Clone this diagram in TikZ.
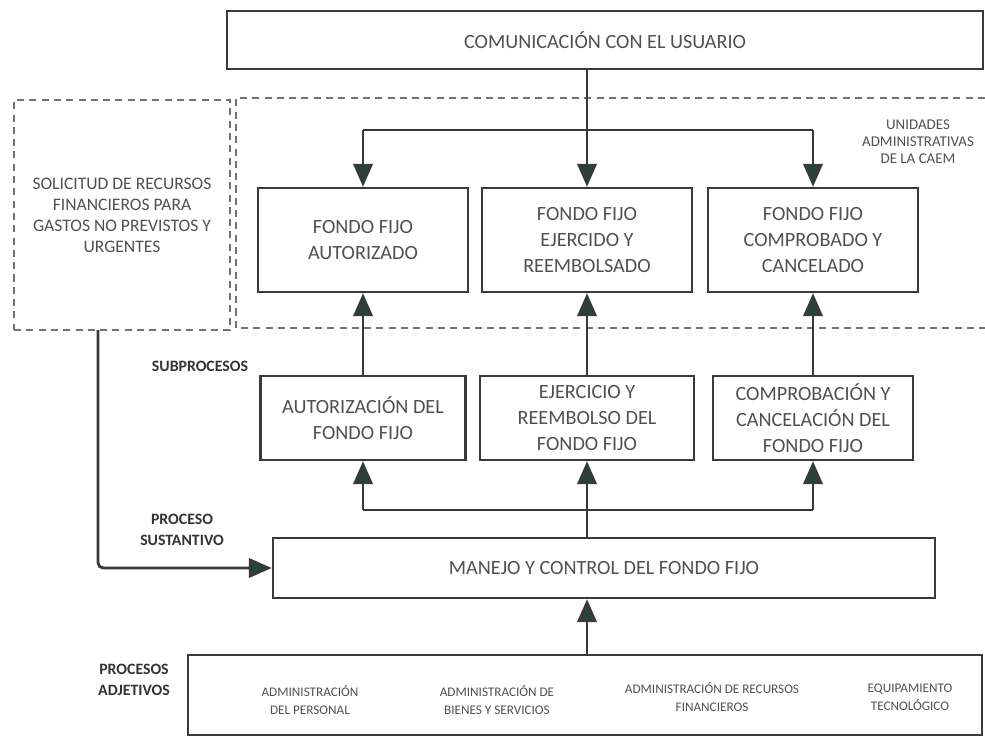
\documentclass[tikz,border=0pt]{standalone}
\usepackage{fontspec}
\setmainfont{Carlito}
\usepackage{tikz}
\usetikzlibrary{arrows.meta,positioning}
\definecolor{linecolor}{RGB}{55, 58, 58}
\definecolor{tipcolor}{RGB}{42, 66, 60}
\definecolor{textcolor}{RGB}{80, 80, 80}

\begin{document}
\begin{tikzpicture}[
    box/.style={rectangle, draw=linecolor, line width=1.4pt, minimum width=4.2cm, minimum height=2.08cm, align=center, text=textcolor, font=\fontsize{11.5}{15}\selectfont},
    subbox/.style={box, minimum height=1.68cm},
    dashbox/.style={rectangle, draw=black!55, line width=1pt, dash pattern=on 4pt off 3pt, align=center, text=textcolor},
    small/.style={align=center, text=textcolor, font=\fontsize{7.5}{10}\selectfont},
    tag/.style={align=center, text=black!80, font=\bfseries\fontsize{9}{12}\selectfont},
    link/.style={draw=linecolor, line width=1.6pt},
    arrow/.style={link, -{Triangle[length=13pt, width=11pt, fill=tipcolor]}}
]
    \useasboundingbox (0,0) rectangle (19.7,-14.76);

    % User communication
    \node[box, minimum width=15.12cm, minimum height=1.16cm] (usuario) at (12.1,-0.8) {COMUNICACI\'ON CON EL USUARIO};

    % Request box and administrative units
    \node[dashbox, minimum width=4.32cm, minimum height=4.6cm, font=\fontsize{10}{12}\selectfont] (sol) at (2.44,-4.3) {SOLICITUD DE RECURSOS\\FINANCIEROS PARA\\GASTOS NO PREVISTOS Y\\URGENTES};
    \draw[black!55, line width=1pt, dash pattern=on 4pt off 3pt] (19.7,-1.96) -- (4.72,-1.96) -- (4.72,-6.56) -- (19.7,-6.56);
    \node[small, font=\fontsize{8.5}{9.6}\selectfont] (unidades) at (18.36,-2.84) {UNIDADES\\ADMINISTRATIVAS\\DE LA CAEM};

    % Results
    \node[box] (fa) at (7.26,-4.8) {FONDO FIJO\\AUTORIZADO};
    \node[box] (fe) at (11.74,-4.8) {FONDO FIJO\\EJERCIDO Y\\REEMBOLSADO};
    \node[box] (fc) at (16.26,-4.8) {FONDO FIJO\\COMPROBADO Y\\CANCELADO};

    % Subprocesses
    \node[tag] (subp) at (4.0,-7.32) {SUBPROCESOS};
    \node[subbox, minimum width=4.1cm] (aut) at (7.26,-8.36) {AUTORIZACI\'ON DEL\\FONDO FIJO};
    \node[subbox, minimum width=4.28cm] (ejr) at (11.74,-8.36) {EJERCICIO Y\\REEMBOLSO DEL\\FONDO FIJO};
    \node[subbox, minimum width=4.0cm] (comp) at (16.26,-8.36) {COMPROBACI\'ON Y\\CANCELACI\'ON DEL\\FONDO FIJO};

    % Substantive process
    \node[tag] (sust) at (3.64,-10.6) {PROCESO\\SUSTANTIVO};
    \node[box, minimum width=13.24cm, minimum height=1.2cm] (manejo) at (12.08,-11.36) {MANEJO Y CONTROL DEL FONDO FIJO};

    % Adjective processes
    \node[tag] (adjt) at (2.68,-13.6) {PROCESOS\\ADJETIVOS};
    \node[box, minimum width=15.88cm, minimum height=1.6cm] (adj) at (11.7,-13.9) {};
    \node[small] (pers) at (6.2,-14.0) {ADMINISTRACI\'ON\\DEL PERSONAL};
    \node[small] (bien) at (9.94,-14.0) {ADMINISTRACI\'ON DE\\BIENES Y SERVICIOS};
    \node[small] (fin) at (14.24,-13.94) {ADMINISTRACI\'ON DE RECURSOS\\FINANCIEROS};
    \node[small] (equip) at (18.2,-13.94) {EQUIPAMIENTO\\TECNOL\'OGICO};

    % Branch points
    \coordinate (tl) at (7.26,-2.6);
    \coordinate (tr) at (16.26,-2.6);
    \coordinate (bl) at (7.26,-10.2);
    \coordinate (br) at (16.26,-10.2);
    \coordinate (solout) at (1.96,-6.6);

    % Arrows
    \draw[link] (tl) -- (tr);
    \draw[arrow] (usuario.south -| fe.north) -- (fe.north);
    \draw[arrow] (tl) -- (fa.north);
    \draw[arrow] (tr) -- (fc.north);
    \draw[arrow] (aut) -- (fa);
    \draw[arrow] (ejr) -- (fe);
    \draw[arrow] (comp) -- (fc);
    \draw[link] (bl) -- (br);
    \draw[arrow] (bl) -- (aut.south);
    \draw[arrow] (br) -- (comp.south);
    \draw[arrow] (manejo.north -| ejr.south) -- (ejr.south);
    \draw[arrow] (adj.north -| ejr.south) -- (manejo.south -| ejr.south);
    \draw[arrow, rounded corners=3pt] (solout) |- (manejo.west);
\end{tikzpicture}
\end{document}
